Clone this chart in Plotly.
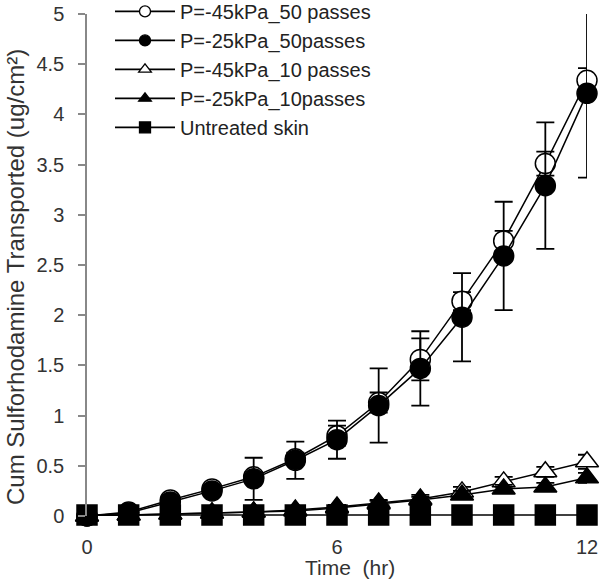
import plotly.graph_objects as go

time_hr = [0, 1, 2, 3, 4, 5, 6, 7, 8, 9, 10, 11, 12]

p45_50 = [0, 0.04, 0.16, 0.27, 0.39, 0.57, 0.80, 1.13, 1.56, 2.14, 2.74, 3.51, 4.34]
p45_50_err = [0, 0.01, 0.02, 0.03, 0.05, 0.06, 0.10, 0.10, 0.21, 0.09, 0.10, 0.12, 0.12]

p25_50 = [0, 0.03, 0.14, 0.25, 0.37, 0.555, 0.76, 1.10, 1.47, 1.98, 2.59, 3.29, 4.21]
p25_50_err = [0, 0.01, 0.03, 0.05, 0.21, 0.185, 0.19, 0.37, 0.37, 0.44, 0.54, 0.63, 0.84]

p45_10 = [0, 0.01, 0.02, 0.03, 0.04, 0.06, 0.09, 0.13, 0.17, 0.24, 0.34, 0.44, 0.54]
p45_10_err = [0, 0.005, 0.01, 0.01, 0.01, 0.02, 0.02, 0.03, 0.04, 0.05, 0.05, 0.05, 0.07]

p25_10 = [0, 0.01, 0.02, 0.03, 0.04, 0.05, 0.08, 0.12, 0.16, 0.21, 0.27, 0.29, 0.38]
p25_10_err = [0, 0.005, 0.01, 0.01, 0.01, 0.02, 0.02, 0.03, 0.03, 0.04, 0.04, 0.04, 0.05]

untreated = [0.01, 0.01, 0.01, 0.01, 0.01, 0.01, 0.01, 0.01, 0.01, 0.01, 0.01, 0.01, 0.01]

names = ["P=-45kPa_50 passes", "P=-25kPa_50passes", "P=-45kPa_10 passes",
         "P=-25kPa_10passes", "Untreated skin"]

y_ticks = [0, 0.5, 1, 1.5, 2, 2.5, 3, 3.5, 4, 4.5, 5]
x_ticks = [0, 6, 12]

FONT = "Arial, Liberation Sans, sans-serif"

series = [
    (names[0], p45_50, p45_50_err, "circle", "white"),
    (names[1], p25_50, p25_50_err, "circle", "black"),
    (names[2], p45_10, p45_10_err, "triangle-up", "white"),
    (names[3], p25_10, p25_10_err, "triangle-up", "black"),
    (names[4], untreated, None, "square", "black"),
]

fig = go.Figure()
for i, (name, vals, err, sym, fill) in enumerate(series):
    tr = dict(
        x=time_hr, y=vals, name=name, mode="lines+markers",
        legendgroup=f"g{i}", showlegend=False,
        line=dict(color="black", width=1.5),
        marker=dict(symbol=sym, size=20, color=fill,
                    line=dict(color="black", width=1.5)),
        cliponaxis=False,
    )
    if err is not None:
        tr["error_y"] = dict(type="data", array=err, visible=True,
                             color="black", thickness=1.8, width=9)
    fig.add_trace(go.Scatter(**tr))

# legend entries (smaller symbols, as in the original legend)
for i, (name, vals, err, sym, fill) in enumerate(series):
    fig.add_trace(go.Scatter(
        x=[None], y=[None], name=name, mode="lines+markers",
        legendgroup=f"g{i}", showlegend=True,
        line=dict(color="black", width=1.8),
        marker=dict(symbol=sym, size=11, color=fill,
                    line=dict(color="black", width=1.3)),
    ))

fig.update_layout(
    width=600, height=582,
    margin=dict(l=87, r=13, t=14, b=66, autoexpand=False),
    paper_bgcolor="white", plot_bgcolor="white",
    font=dict(family=FONT, size=20, color="#333"),
    showlegend=True,
    legend=dict(x=0.046, y=1.044, xanchor="left", yanchor="top",
                bgcolor="rgba(255,255,255,0)", borderwidth=0,
                itemwidth=60, tracegroupgap=0,
                font=dict(family=FONT, size=20, color="#222")),
    xaxis=dict(range=[0, 12], tickvals=x_ticks, ticks="", showgrid=False,
               zeroline=False, showline=False, ticklabelstandoff=17,
               ticklabeloverflow="allow",
               tickfont=dict(size=20, color="#333")),
    yaxis=dict(range=[0, 5], tickvals=y_ticks, ticks="outside", ticklen=7,
               tickcolor="#888", tickwidth=1.5, showgrid=False, zeroline=False,
               showline=True, linecolor="#888", linewidth=1.5,
               ticklabelstandoff=10, ticklabeloverflow="allow",
               tickfont=dict(size=20, color="#333")),
    annotations=[
        dict(text="Cum Sulforhodamine Transported (ug/cm²)", textangle=-90,
             xref="paper", yref="paper", x=0, y=0.5, xanchor="center",
             yanchor="middle", xshift=-72, yshift=-12, showarrow=False,
             font=dict(family=FONT, size=24, color="#333")),
        dict(text="Time  (hr)", xref="paper", yref="paper", x=0.5, y=0,
             xanchor="center", yanchor="middle", xshift=13, yshift=-51,
             showarrow=False, font=dict(family=FONT, size=21, color="#333")),
    ],
)

fig.write_html("out.html", config={"displayModeBar": False},
               post_script="document.body.style.margin='0';")
